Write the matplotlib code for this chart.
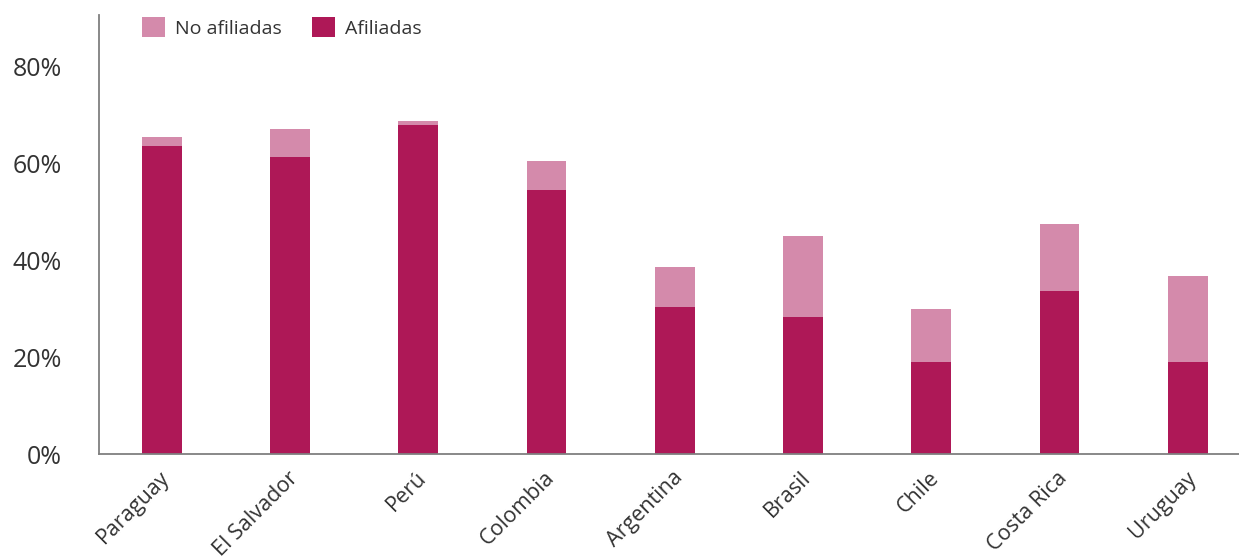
import matplotlib
matplotlib.use("Agg")
import matplotlib.pyplot as plt
import matplotlib.transforms as mtransforms
import numpy as np
from matplotlib.ticker import FixedLocator

plt.rcParams['font.family'] = ['Open Sans', 'DejaVu Sans']

countries = ["Paraguay", "El Salvador", "Perú", "Colombia", "Argentina",
             "Brasil", "Chile", "Costa Rica", "Uruguay"]
afiliadas = [63.6, 61.4, 68.0, 54.5, 30.4, 28.3, 19.0, 33.7, 19.0]
total = [65.5, 67.1, 68.8, 60.5, 38.6, 45.0, 30.0, 47.5, 36.8]
no_afiliadas = [t - a for t, a in zip(total, afiliadas)]
y_ticks = [0, 20, 40, 60, 80]
y_tick_labels = ["0%", "20%", "40%", "60%", "80%"]

dark = "#AE1857"
light = "#D48AAB"
text_color = "#333333"

W, H = 1239, 558
fig = plt.figure(figsize=(W / 100, H / 100), dpi=100)
ax = fig.add_axes([99 / W, 1 - 454 / H, (W - 99) / W, (454 - 15) / H])

x = np.arange(len(countries))
ax.bar(x, afiliadas, width=0.31, color=dark, label="Afiliadas", zorder=2)
ax.bar(x, no_afiliadas, width=0.31, bottom=afiliadas, color=light,
       label="No afiliadas", zorder=2)

ax.set_xlim(-0.49, 8.4)
ax.set_ylim(0, 90.7)

for side in ("top", "right"):
    ax.spines[side].set_visible(False)
for side in ("left", "bottom"):
    ax.spines[side].set_color("#7f7f7f")
    ax.spines[side].set_linewidth(1.3)

ax.yaxis.set_major_locator(FixedLocator(y_ticks))
ax.set_yticklabels(y_tick_labels, fontsize=18, color=text_color)
ax.tick_params(axis="y", length=0, pad=26.5)
ax.set_xticks(x)
ax.set_xticklabels(countries, rotation=45, ha="right", va="center",
                   rotation_mode="anchor", fontsize=15.5, color=text_color)
ax.tick_params(axis="x", length=0, pad=15)

shift = mtransforms.ScaledTranslation(5 / 100, 0, fig.dpi_scale_trans)
for lbl in ax.get_xticklabels():
    lbl.set_transform(lbl.get_transform() + shift)

handles, labels = ax.get_legend_handles_labels()
leg = ax.legend(handles[::-1], labels[::-1], ncol=2, frameon=False,
                loc="upper left", bbox_to_anchor=(142 / W, 1 - 17 / H),
                bbox_transform=fig.transFigure, fontsize=14,
                handlelength=1.2, handleheight=1.2, handletextpad=0.5,
                columnspacing=1.55, borderaxespad=0, borderpad=0)
for t in leg.get_texts():
    t.set_color(text_color)

fig.savefig("out.png", dpi=100)
